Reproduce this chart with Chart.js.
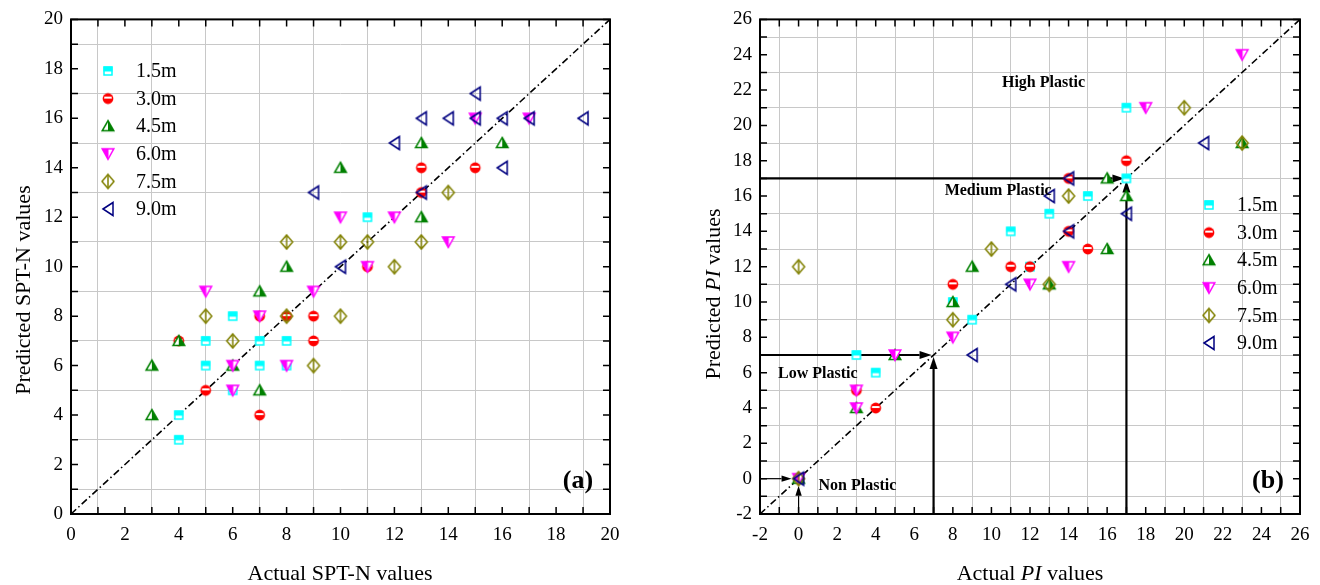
<!DOCTYPE html>
<html>
<head>
<meta charset="utf-8">
<script src="https://cdn.jsdelivr.net/npm/chart.js@4.4.1/dist/chart.umd.min.js"></script>
<style>
    html, body { margin: 0; padding: 0; background: #fff; }
    .wrap { position: relative; width: 1320px; height: 585px; overflow: hidden; }
    .panel { position: absolute; top: 0; width: 660px; height: 585px; }
</style>
</head>
<body>
<div class="wrap">
    <div class="panel" style="left:0"><canvas id="chartA" width="660" height="585"></canvas></div>
    <div class="panel" style="left:660px"><canvas id="chartB" width="660" height="585"></canvas></div>
</div>
<script>
const seriesLabels = ['1.5m', '3.0m', '4.5m', '6.0m', '7.5m', '9.0m'];

// (a) SPT-N, pairs of [actual, predicted]
const sptN15 = [[4, 3], [4, 4], [5, 6], [5, 7], [6, 5], [6, 8], [7, 6], [7, 7], [8, 6], [8, 7], [11, 12]];
const sptN30 = [[4, 7], [5, 5], [7, 4], [7, 8], [8, 8], [9, 7], [9, 8], [11, 10], [13, 13], [13, 14], [15, 14]];
const sptN45 = [[3, 4], [3, 6], [4, 7], [6, 6], [7, 5], [7, 9], [8, 10], [10, 14], [13, 12], [13, 15], [16, 15]];
const sptN60 = [[5, 9], [6, 5], [6, 6], [7, 8], [8, 6], [9, 9], [10, 12], [11, 10], [12, 12], [14, 11], [15, 16], [17, 16]];
const sptN75 = [[5, 8], [6, 7], [8, 8], [8, 11], [9, 6], [10, 8], [10, 11], [11, 11], [12, 10], [13, 11], [14, 13]];
const sptN90 = [[9, 13], [10, 10], [12, 15], [13, 13], [13, 16], [14, 16], [15, 16], [15, 17], [16, 14], [16, 16], [17, 16], [19, 16]];

// (b) PI, pairs of [actual, predicted]
const pi15 = [[0, 0], [3, 7], [4, 6], [8, 10], [9, 9], [11, 14], [12, 12], [13, 15], [15, 16], [17, 17], [17, 21]];
const pi30 = [[0, 0], [3, 5], [4, 4], [8, 11], [11, 12], [12, 12], [14, 14], [14, 17], [15, 13], [17, 18]];
const pi45 = [[0, 0], [3, 4], [5, 7], [8, 10], [9, 12], [13, 11], [16, 13], [16, 17], [17, 16], [23, 19]];
const pi60 = [[0, 0], [3, 4], [3, 5], [5, 7], [8, 8], [12, 11], [14, 12], [18, 21], [23, 24]];
const pi75 = [[0, 0], [0, 12], [8, 9], [10, 13], [13, 11], [14, 16], [20, 21], [23, 19]];
const pi90 = [[0, 0], [9, 7], [11, 11], [13, 16], [14, 14], [14, 17], [17, 15], [21, 19]];

const tickLabelsA = [0, 2, 4, 6, 8, 10, 12, 14, 16, 18, 20];
const tickLabelsB = [-2, 0, 2, 4, 6, 8, 10, 12, 14, 16, 18, 20, 22, 24, 26];
const diagonalA = [0, 20];
const diagonalB = [-2, 26];

// PI class limits marked with arrows
const arrowLevels = [17, 7, 0];
const zoneNames = ['High Plastic', 'Medium Plastic', 'Low Plastic', 'Non Plastic'];
const zoneX = [12.7, 10.35, 1.0, 3.05];
const zoneY = [22.4, 16.3, 5.95, -0.4];

const serif = "'Liberation Serif', 'Times New Roman', serif";

const makeMarker = (kind, color) => {
    const c = document.createElement('canvas');
    c.width = 18;
    c.height = 18;
    const g = c.getContext('2d');
    const m = 9;
    g.lineWidth = 1.5;
    g.strokeStyle = color;
    g.fillStyle = color;

    const path = (pts) => {
        g.beginPath();
        g.moveTo(pts[0][0], pts[0][1]);
        pts.slice(1).forEach(([px, py]) => g.lineTo(px, py));
        g.closePath();
    };

    if (kind === 'square') {
        g.fillStyle = '#fff';
        g.fillRect(m - 4.5, m - 4.5, 9, 9);
        g.fillStyle = color;
        g.fillRect(m - 4.5, m - 4.5, 9, 5);
        g.strokeRect(m - 4, m - 4, 8, 8);
    } else if (kind === 'circle') {
        g.beginPath();
        g.arc(m, m, 5.4, 0, Math.PI * 2);
        g.fill();
        g.save();
        g.beginPath();
        g.arc(m, m, 3.9, 0, Math.PI * 2);
        g.clip();
        g.fillStyle = '#fff';
        g.fillRect(m - 5, m - 2, 10, 2);
        g.restore();
    } else if (kind === 'up') {
        const pts = [[m, m - 5.5], [m + 5.8, m + 4.5], [m - 5.8, m + 4.5]];
        path(pts);
        g.fillStyle = '#fff';
        g.fill();
        g.save();
        g.clip();
        g.fillStyle = color;
        g.fillRect(m, 0, 9, 18);
        g.restore();
        path(pts);
        g.stroke();
    } else if (kind === 'down') {
        const pts = [[m - 5.8, m - 5], [m + 5.8, m - 5], [m, m + 5.5]];
        path(pts);
        g.fillStyle = '#fff';
        g.fill();
        g.save();
        g.clip();
        g.fillStyle = color;
        g.fillRect(0, 0, m + 0.5, 18);
        g.restore();
        path(pts);
        g.stroke();
    } else if (kind === 'diamond') {
        path([[m, m - 7], [m + 6, m], [m, m + 7], [m - 6, m]]);
        g.stroke();
        g.beginPath();
        g.moveTo(m, m - 7);
        g.lineTo(m, m + 7);
        g.stroke();
    } else {
        path([[m - 5, m], [m + 5, m - 6.5], [m + 5, m + 6.5]]);
        g.stroke();
    }
    return c;
};

const markers = [
    makeMarker('square', '#00ffff'),
    makeMarker('circle', '#ff0000'),
    makeMarker('up', '#008000'),
    makeMarker('down', '#ff00ff'),
    makeMarker('diamond', '#808000'),
    makeMarker('left', '#000080'),
];

const buildDatasets = (groups, diagonal) => {
    const sets = groups.map((pts, i) => ({
        type: 'scatter',
        label: seriesLabels[i],
        data: pts.map(([x, y]) => ({ x, y })),
        pointStyle: markers[i],
        pointRadius: 6,
        order: 6 - i,
    }));
    sets.push({
        type: 'line',
        label: 'y = x',
        data: diagonal.map((v) => ({ x: v, y: v })),
        borderColor: '#000',
        borderWidth: 1.6,
        borderDash: [7, 3, 1.5, 3],
        pointRadius: 0,
        fill: false,
        order: 10,
    });
    return sets;
};

const buildAxis = (min, max, labels, horizontal, size, padding) => ({
    type: 'linear',
    min,
    max,
    ticks: {
        stepSize: 1,
        maxTicksLimit: 100,
        autoSkip: false,
        maxRotation: 0,
        padding,
        color: '#000',
        font: { family: serif, size: 19 },
        callback: (value) => (labels.includes(value) ? String(value) : ''),
    },
    grid: {
        drawTicks: false,
        lineWidth: 1,
        color: (ctx) => (Math.abs(ctx.tick.value % 2) === 1 ? '#c8c8c8' : 'rgba(0,0,0,0)'),
    },
    border: { display: false },
    afterFit: (scale) => {
        if (horizontal) {
            scale.height = size;
        } else {
            scale.width = size;
        }
    },
});

const drawArrow = (ctx, x1, y1, x2, y2, width, head, half) => {
    const ang = Math.atan2(y2 - y1, x2 - x1);
    const bx = x2 - head * Math.cos(ang);
    const by = y2 - head * Math.sin(ang);
    ctx.lineWidth = width;
    ctx.beginPath();
    ctx.moveTo(x1, y1);
    ctx.lineTo(bx, by);
    ctx.stroke();
    ctx.beginPath();
    ctx.moveTo(x2, y2);
    ctx.lineTo(bx + half * Math.sin(ang), by - half * Math.cos(ang));
    ctx.lineTo(bx - half * Math.sin(ang), by + half * Math.cos(ang));
    ctx.closePath();
    ctx.fill();
};

const drawParts = (ctx, parts, cx, cy) => {
    const fonts = parts.map(([, italic]) => `${italic ? 'italic ' : ''}22px ${serif}`);
    const widths = parts.map(([text], i) => {
        ctx.font = fonts[i];
        return ctx.measureText(text).width;
    });
    let x = cx - widths.reduce((a, b) => a + b, 0) / 2;
    parts.forEach(([text], i) => {
        ctx.font = fonts[i];
        ctx.fillText(text, x, cy);
        x += widths[i];
    });
};

const frame = {
    id: 'frame',
    beforeDatasetsDraw(chart, args, opts) {
        if (!opts.arrows) return;
        const { ctx, scales: { x, y } } = chart;
        ctx.save();
        ctx.strokeStyle = '#000';
        ctx.fillStyle = '#000';
        opts.arrows.forEach((level) => {
            const px = x.getPixelForValue(level);
            const py = y.getPixelForValue(level);
            const big = level !== 0;
            const gap = big ? 2 : 7;
            const w = big ? 2.2 : 1.2;
            const head = big ? 12 : 10;
            const half = big ? 4 : 3.2;
            drawArrow(ctx, x.getPixelForValue(x.min), py, px - gap, py, w, head, half);
            drawArrow(ctx, px, y.getPixelForValue(y.min), px, py + gap, w, head, half);
        });
        ctx.restore();
    },
    afterDatasetsDraw(chart, args, opts) {
        const { ctx, chartArea: a, scales: { x, y } } = chart;
        ctx.save();
        ctx.strokeStyle = '#000';
        ctx.fillStyle = '#000';

        // inward ticks on all four sides
        ctx.lineWidth = 1.5;
        ctx.beginPath();
        x.ticks.forEach((t) => {
            const px = x.getPixelForValue(t.value);
            ctx.moveTo(px, a.bottom);
            ctx.lineTo(px, a.bottom - 7);
            ctx.moveTo(px, a.top);
            ctx.lineTo(px, a.top + 7);
        });
        y.ticks.forEach((t) => {
            const py = y.getPixelForValue(t.value);
            ctx.moveTo(a.left, py);
            ctx.lineTo(a.left + 7, py);
            ctx.moveTo(a.right, py);
            ctx.lineTo(a.right - 7, py);
        });
        ctx.stroke();

        ctx.lineWidth = 2;
        ctx.strokeRect(a.left, a.top, a.right - a.left, a.bottom - a.top);

        // legend
        ctx.font = `20px ${serif}`;
        ctx.textAlign = 'left';
        ctx.textBaseline = 'middle';
        seriesLabels.forEach((label, i) => {
            const ly = opts.legendY + i * 27.6;
            const mk = markers[i];
            ctx.drawImage(mk, opts.legendX - mk.width / 2, ly - mk.height / 2);
            ctx.fillText(label, opts.legendX + 28, ly + 1);
        });

        // zone labels
        if (opts.zones) {
            ctx.font = `bold 16px ${serif}`;
            ctx.textAlign = 'center';
            opts.zones.forEach((name, i) => {
                ctx.fillText(name, x.getPixelForValue(zoneX[i]), y.getPixelForValue(zoneY[i]));
            });
        }

        // panel tag
        ctx.font = `bold 26px ${serif}`;
        ctx.textAlign = 'center';
        ctx.fillText(opts.tag, a.right - 32, a.bottom - 33);

        // axis titles
        ctx.textBaseline = 'alphabetic';
        ctx.textAlign = 'left';
        drawParts(ctx, opts.xTitle, opts.xTitleX, 580);
        ctx.save();
        ctx.translate(opts.yTitleX, opts.yTitleY);
        ctx.rotate(-Math.PI / 2);
        drawParts(ctx, opts.yTitle, 0, 0);
        ctx.restore();

        ctx.restore();
    },
};

const baseOptions = (xAxis, yAxis, padding, frameOpts) => ({
    responsive: false,
    animation: false,
    layout: { padding },
    scales: { x: xAxis, y: yAxis },
    plugins: {
        legend: { display: false },
        tooltip: { enabled: false },
        frame: frameOpts,
    },
});

new Chart(document.getElementById('chartA'), {
    type: 'scatter',
    data: { datasets: buildDatasets([sptN15, sptN30, sptN45, sptN60, sptN75, sptN90], diagonalA) },
    options: baseOptions(
        buildAxis(0, 20, tickLabelsA, true, 71, 10),
        buildAxis(0, 20, tickLabelsA, false, 71, 8),
        { top: 19, right: 50, left: 0, bottom: 0 },
        {
            legendX: 108,
            legendY: 71,
            tag: '(a)',
            xTitle: [['Actual SPT-N values', false]],
            xTitleX: 340,
            yTitle: [['Predicted SPT-N values', false]],
            yTitleX: 30,
            yTitleY: 290,
        },
    ),
    plugins: [frame],
});

new Chart(document.getElementById('chartB'), {
    type: 'scatter',
    data: { datasets: buildDatasets([pi15, pi30, pi45, pi60, pi75, pi90], diagonalB) },
    options: baseOptions(
        buildAxis(-2, 26, tickLabelsB, true, 71, 10),
        buildAxis(-2, 26, tickLabelsB, false, 100, 8),
        { top: 19, right: 20, left: 0, bottom: 0 },
        {
            arrows: arrowLevels,
            zones: zoneNames,
            legendX: 549,
            legendY: 205,
            tag: '(b)',
            xTitle: [['Actual ', false], ['PI', true], [' values', false]],
            xTitleX: 370,
            yTitle: [['Predicted ', false], ['PI', true], [' values', false]],
            yTitleX: 60,
            yTitleY: 294,
        },
    ),
    plugins: [frame],
});
</script>
</body>
</html>
